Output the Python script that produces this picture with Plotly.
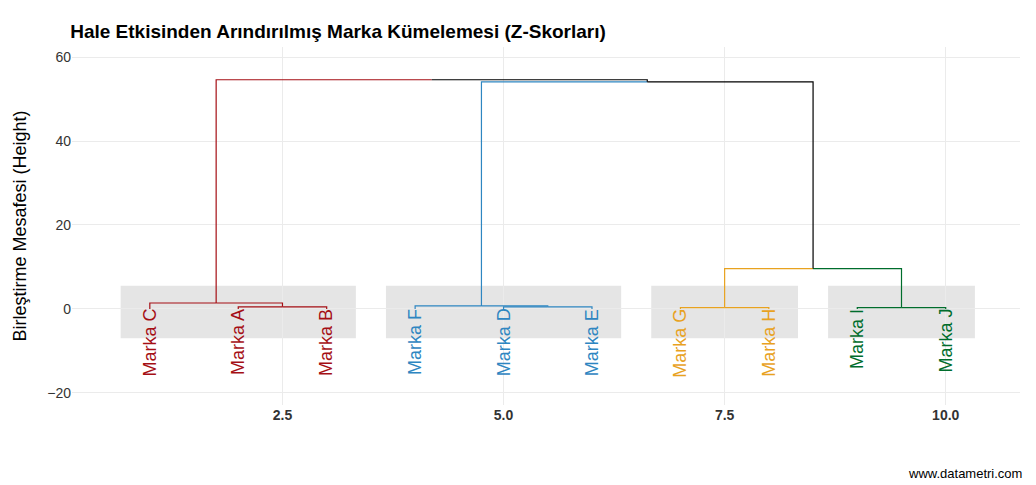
import plotly.graph_objects as go

leaves = ["Marka C", "Marka A", "Marka B", "Marka F", "Marka D", "Marka E",
          "Marka G", "Marka H", "Marka I", "Marka J"]
leaf_colors = ["#A50F15"]*3 + ["#2E86C1"]*3 + ["#E8A21F"]*2 + ["#006D2C"]*2
# merges: (left id, right id, height, left-branch colour, right-branch colour)
merges = [
    ("Marka A", "Marka B", 0.5, "#A50F15", "#A50F15"),
    ("Marka C", "m0", 1.4, "#A50F15", "#A50F15"),
    ("Marka D", "Marka E", 0.5, "#2E86C1", "#2E86C1"),
    ("Marka F", "m2", 0.7, "#2E86C1", "#2E86C1"),
    ("Marka G", "Marka H", 0.3, "#E8A21F", "#E8A21F"),
    ("Marka I", "Marka J", 0.3, "#006D2C", "#006D2C"),
    ("m4", "m5", 9.6, "#E8A21F", "#006D2C"),
    ("m3", "m6", 54.1, "#2E86C1", "black"),
    ("m1", "m7", 54.6, "#A50F15", "black"),
]
cluster_spans = [(1, 3), (4, 6), (7, 8), (9, 10)]

pos = {n: (i + 1, 0.0) for i, n in enumerate(leaves)}
fig = go.Figure()
for (lo, hi) in cluster_spans:
    fig.add_shape(type="rect", x0=lo-0.33, x1=hi+0.33, y0=-7, y1=5.5,
                  fillcolor="#E5E5E5", line_width=0, layer="below")
for k, (a, b, h, ca, cb) in enumerate(merges):
    xa, ya = pos[a]; xb, yb = pos[b]
    xm = (xa + xb) / 2
    fig.add_trace(go.Scatter(x=[xa, xa, xm], y=[ya, h, h], mode="lines",
                             line=dict(color=ca, width=1.2), hoverinfo="skip"))
    fig.add_trace(go.Scatter(x=[xm, xb, xb], y=[h, h, yb], mode="lines",
                             line=dict(color=cb, width=1.2), hoverinfo="skip"))
    pos["m%d" % k] = (xm, h)

for i, (n, c) in enumerate(zip(leaves, leaf_colors)):
    fig.add_annotation(x=i+1, y=0.5, text=n, textangle=-90, showarrow=False,
                       yanchor="top", xanchor="center", font=dict(size=18, color=c))

fig.add_annotation(x=1, y=0, xref="paper", yref="paper", yshift=-78, xshift=4, text="www.datametri.com",
                   showarrow=False, xanchor="right", yanchor="bottom", font=dict(size=13, color="black"))

fig.update_layout(
    width=1036, height=485, showlegend=False, plot_bgcolor="white", paper_bgcolor="white",
    margin=dict(l=49, r=24, t=39, b=88),
    font=dict(family="Liberation Sans, Arial", color="#4D4D4D"),
    title=dict(text="<b>Hale Etkisinden Arındırılmış Marka Kümelemesi (Z-Skorları)</b>",
               x=0.06, xanchor="left", xref="container", y=0.965, font=dict(size=19, color="black")),
)
fig.update_xaxes(range=[0.12, 10.84], tickvals=[2.5, 5.0, 7.5, 10.0],
                 ticktext=["<b>2.5</b>", "<b>5.0</b>", "<b>7.5</b>", "<b>10.0</b>"],
                 showgrid=True, gridcolor="#EBEBEB", zeroline=False, tickfont=dict(size=14, color="#333"))
fig.update_yaxes(range=[-22.9, 62.4], tickvals=[-20, 0, 20, 40, 60],
                 showgrid=True, gridcolor="#EBEBEB", zeroline=False, tickfont=dict(size=14, color="#333"),
                 title=dict(text="Birleştirme Mesafesi (Height)", font=dict(size=18, color="black")))
fig.write_html("out.html")
